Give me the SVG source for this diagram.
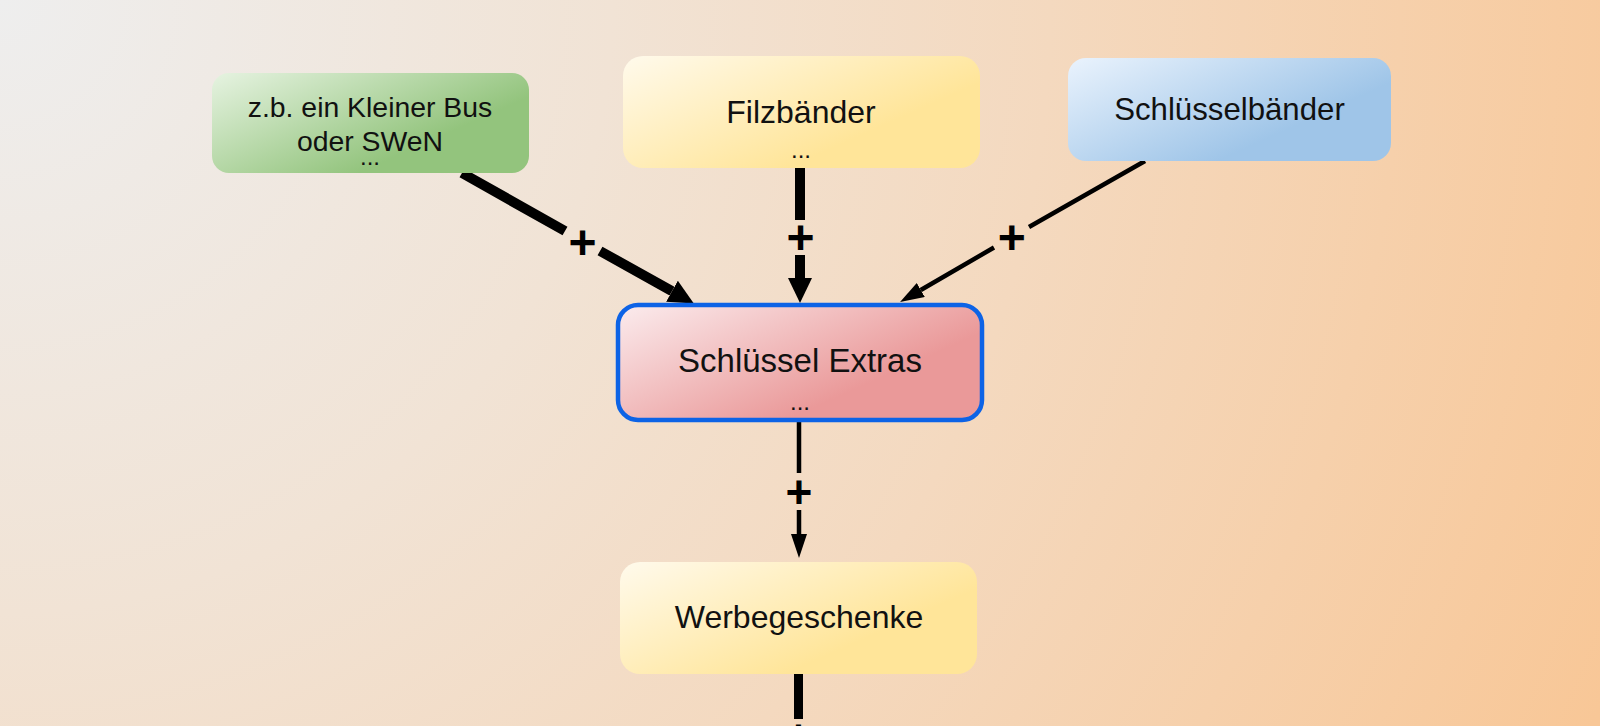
<svg xmlns="http://www.w3.org/2000/svg" width="1600" height="726" viewBox="0 0 1600 726">
  <defs>
    <radialGradient id="bg" cx="0" cy="0" r="1750" fx="0" fy="0" gradientUnits="userSpaceOnUse">
      <stop offset="0" stop-color="#eeeeee"/>
      <stop offset="0.35" stop-color="#f1e3d5"/>
      <stop offset="0.6" stop-color="#f4d9bf"/>
      <stop offset="1" stop-color="#f8c797"/>
    </radialGradient>
    <linearGradient id="gGreen" x1="0" y1="0" x2="0.78" y2="0.55">
      <stop offset="0" stop-color="#e6f3e1"/>
      <stop offset="1" stop-color="#93c47d"/>
    </linearGradient>
    <linearGradient id="gYellow" x1="0" y1="0" x2="0.78" y2="0.55">
      <stop offset="0" stop-color="#fffaec"/>
      <stop offset="1" stop-color="#ffe599"/>
    </linearGradient>
    <linearGradient id="gBlue" x1="0" y1="0" x2="0.78" y2="0.55">
      <stop offset="0" stop-color="#eaf3fd"/>
      <stop offset="1" stop-color="#9fc5e8"/>
    </linearGradient>
    <linearGradient id="gRed" x1="0" y1="0" x2="0.78" y2="0.55">
      <stop offset="0" stop-color="#fbecee"/>
      <stop offset="1" stop-color="#ea9999"/>
    </linearGradient>
    <marker id="headBig" markerUnits="userSpaceOnUse" markerWidth="25" markerHeight="25" refX="0" refY="12" orient="auto" viewBox="0 0 25 24">
      <path d="M0,0 L25,12 L0,24 z" fill="#000"/>
    </marker>
    <marker id="headSmall" markerUnits="userSpaceOnUse" markerWidth="24" markerHeight="16" refX="0" refY="8" orient="auto" viewBox="0 0 24 16">
      <path d="M0,0 L24,8 L0,16 z" fill="#000"/>
    </marker>
  </defs>
  <style>
    .node text { font-family: "Liberation Sans", Arial, sans-serif; fill: #111; text-anchor: middle; }
    .label { font-size: 32px; }
    .dots { font-size: 24px; }
    .edge { fill: none; stroke: #000; stroke-linecap: butt; }
    .thick { stroke-width: 10; }
    .thin { stroke-width: 4.5; }
    .plus { font-family: "Liberation Sans", Arial, sans-serif; font-weight: bold; font-size: 48px; fill: #000; text-anchor: middle; }
    .plus.light { font-size: 46px; }
  </style>

  <rect x="0" y="0" width="1600" height="726" fill="url(#bg)"/>

  <g id="connectors">
    <path class="edge thick" d="M462,173 L565,231 M600,251 L672,291.2" marker-end="url(#headBig)"/>
    <path class="edge thick" d="M800,168 L800,220 M800,255 L800,278" marker-end="url(#headBig)"/>
    <path class="edge thin" d="M1145,161 L1029,227 M994,247.5 L920.8,290" marker-end="url(#headSmall)"/>
    <path class="edge thin" d="M799,422 L799,473 M799,510 L799,534" marker-end="url(#headSmall)"/>
    <path class="edge" stroke-width="9" d="M798.5,674 L798.5,719"/>
    <text class="plus" x="582.5" y="258.5">+</text>
    <text class="plus" x="800.5" y="254">+</text>
    <text class="plus" x="1011.7" y="253.5">+</text>
    <text class="plus light" x="799" y="508">+</text>
    <text class="plus light" x="798.5" y="752">+</text>
  </g>

  <g id="node-bus" class="node">
    <rect x="212" y="73" width="317" height="100" rx="17" fill="url(#gGreen)"/>
    <text x="370" y="117" style="font-size:28.4px">z.b. ein Kleiner Bus</text>
    <text x="370" y="151" style="font-size:28.4px">oder SWeN</text>
    <text class="dots" x="370" y="165">...</text>
  </g>

  <g id="node-filz" class="node">
    <rect x="623" y="56" width="357" height="112" rx="20" fill="url(#gYellow)"/>
    <text class="label" x="801" y="123">Filzbänder</text>
    <text class="dots" x="801" y="158">...</text>
  </g>

  <g id="node-schluesselbaender" class="node">
    <rect x="1068" y="58" width="323" height="103" rx="18" fill="url(#gBlue)"/>
    <text class="label" x="1229.5" y="120" style="font-size:31.2px">Schlüsselbänder</text>
  </g>

  <g id="node-extras" class="node">
    <rect x="618" y="305" width="364" height="115" rx="20" fill="url(#gRed)" stroke="#0d63e6" stroke-width="4.5"/>
    <text class="label" x="800" y="372" style="font-size:33px">Schlüssel Extras</text>
    <text class="dots" x="800" y="410">...</text>
  </g>

  <g id="node-werbe" class="node">
    <rect x="620" y="562" width="357" height="112" rx="20" fill="url(#gYellow)"/>
    <text class="label" x="799" y="628">Werbegeschenke</text>
  </g>
</svg>
